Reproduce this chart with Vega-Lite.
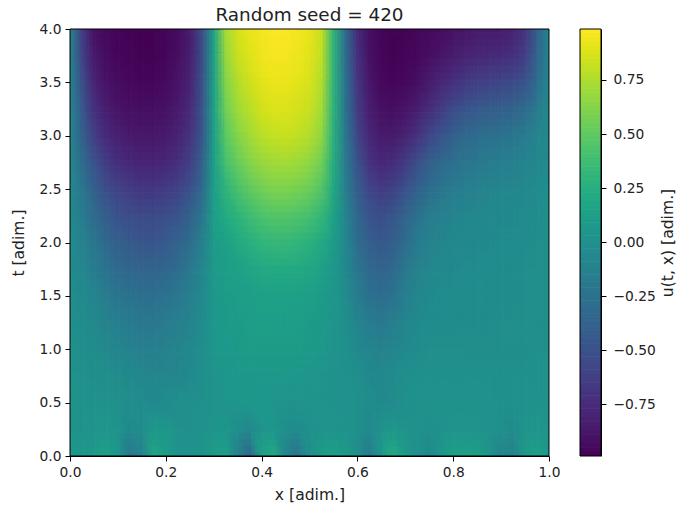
{"$schema":"https://vega.github.io/schema/vega-lite/v6.json","background":"white","padding":{"left":11,"top":5,"right":0,"bottom":0},"spacing":19,"config":{"font":"DejaVu Sans","view":{"stroke":null},"axis":{"grid":false,"domainColor":"black","tickColor":"black","tickSize":5,"labelColor":"#222222","titleColor":"#222222","labelFontSize":13.8,"titleFontSize":15.6,"titleFontWeight":"normal","labelFont":"DejaVu Sans","titleFont":"DejaVu Sans","labelPadding":4,"zindex":1}},"datasets":{"frame":[{"x":0,"x2":1,"t":0,"t2":4}],"barframe":[{"u":-0.99,"u2":0.986}],"grid":[
{"x":0,"t":4,"u":-0.1},{"x":0.025,"t":4,"u":-0.65},{"x":0.05,"t":4,"u":-0.9},{"x":0.075,"t":4,"u":-0.95},{"x":0.1,"t":4,"u":-0.97},{"x":0.125,"t":4,"u":-0.98},{"x":0.15,"t":4,"u":-0.99},{"x":0.175,"t":4,"u":-0.98},{"x":0.2,"t":4,"u":-0.97},{"x":0.225,"t":4,"u":-0.93},{"x":0.25,"t":4,"u":-0.85},{"x":0.275,"t":4,"u":-0.55},{"x":0.3,"t":4,"u":0.15},{"x":0.325,"t":4,"u":0.72},{"x":0.35,"t":4,"u":0.86},{"x":0.375,"t":4,"u":0.92},{"x":0.4,"t":4,"u":0.96},{"x":0.425,"t":4,"u":0.98},{"x":0.45,"t":4,"u":0.98},{"x":0.475,"t":4,"u":0.96},{"x":0.5,"t":4,"u":0.92},{"x":0.525,"t":4,"u":0.82},{"x":0.55,"t":4,"u":0.3},{"x":0.575,"t":4,"u":-0.3},{"x":0.6,"t":4,"u":-0.75},{"x":0.625,"t":4,"u":-0.92},{"x":0.65,"t":4,"u":-0.97},{"x":0.675,"t":4,"u":-0.98},{"x":0.7,"t":4,"u":-0.98},{"x":0.725,"t":4,"u":-0.96},{"x":0.75,"t":4,"u":-0.95},{"x":0.775,"t":4,"u":-0.93},{"x":0.8,"t":4,"u":-0.9},{"x":0.825,"t":4,"u":-0.88},{"x":0.85,"t":4,"u":-0.86},{"x":0.875,"t":4,"u":-0.85},{"x":0.9,"t":4,"u":-0.84},{"x":0.925,"t":4,"u":-0.8},{"x":0.95,"t":4,"u":-0.7},{"x":0.975,"t":4,"u":-0.4},{"x":1,"t":4,"u":-0.05},
{"x":0,"t":3.75,"u":-0.1},{"x":0.025,"t":3.75,"u":-0.6},{"x":0.05,"t":3.75,"u":-0.86},{"x":0.075,"t":3.75,"u":-0.93},{"x":0.1,"t":3.75,"u":-0.96},{"x":0.125,"t":3.75,"u":-0.97},{"x":0.15,"t":3.75,"u":-0.98},{"x":0.175,"t":3.75,"u":-0.98},{"x":0.2,"t":3.75,"u":-0.96},{"x":0.225,"t":3.75,"u":-0.92},{"x":0.25,"t":3.75,"u":-0.83},{"x":0.275,"t":3.75,"u":-0.55},{"x":0.3,"t":3.75,"u":0.14},{"x":0.325,"t":3.75,"u":0.68},{"x":0.35,"t":3.75,"u":0.82},{"x":0.375,"t":3.75,"u":0.89},{"x":0.4,"t":3.75,"u":0.94},{"x":0.425,"t":3.75,"u":0.96},{"x":0.45,"t":3.75,"u":0.96},{"x":0.475,"t":3.75,"u":0.94},{"x":0.5,"t":3.75,"u":0.9},{"x":0.525,"t":3.75,"u":0.8},{"x":0.55,"t":3.75,"u":0.3},{"x":0.575,"t":3.75,"u":-0.28},{"x":0.6,"t":3.75,"u":-0.72},{"x":0.625,"t":3.75,"u":-0.9},{"x":0.65,"t":3.75,"u":-0.96},{"x":0.675,"t":3.75,"u":-0.98},{"x":0.7,"t":3.75,"u":-0.97},{"x":0.725,"t":3.75,"u":-0.95},{"x":0.75,"t":3.75,"u":-0.92},{"x":0.775,"t":3.75,"u":-0.88},{"x":0.8,"t":3.75,"u":-0.84},{"x":0.825,"t":3.75,"u":-0.8},{"x":0.85,"t":3.75,"u":-0.78},{"x":0.875,"t":3.75,"u":-0.76},{"x":0.9,"t":3.75,"u":-0.75},{"x":0.925,"t":3.75,"u":-0.72},{"x":0.95,"t":3.75,"u":-0.63},{"x":0.975,"t":3.75,"u":-0.36},{"x":1,"t":3.75,"u":-0.05},
{"x":0,"t":3.5,"u":-0.1},{"x":0.025,"t":3.5,"u":-0.52},{"x":0.05,"t":3.5,"u":-0.8},{"x":0.075,"t":3.5,"u":-0.89},{"x":0.1,"t":3.5,"u":-0.93},{"x":0.125,"t":3.5,"u":-0.95},{"x":0.15,"t":3.5,"u":-0.96},{"x":0.175,"t":3.5,"u":-0.96},{"x":0.2,"t":3.5,"u":-0.94},{"x":0.225,"t":3.5,"u":-0.89},{"x":0.25,"t":3.5,"u":-0.8},{"x":0.275,"t":3.5,"u":-0.52},{"x":0.3,"t":3.5,"u":0.14},{"x":0.325,"t":3.5,"u":0.62},{"x":0.35,"t":3.5,"u":0.76},{"x":0.375,"t":3.5,"u":0.84},{"x":0.4,"t":3.5,"u":0.9},{"x":0.425,"t":3.5,"u":0.93},{"x":0.45,"t":3.5,"u":0.93},{"x":0.475,"t":3.5,"u":0.91},{"x":0.5,"t":3.5,"u":0.87},{"x":0.525,"t":3.5,"u":0.76},{"x":0.55,"t":3.5,"u":0.3},{"x":0.575,"t":3.5,"u":-0.25},{"x":0.6,"t":3.5,"u":-0.68},{"x":0.625,"t":3.5,"u":-0.87},{"x":0.65,"t":3.5,"u":-0.95},{"x":0.675,"t":3.5,"u":-0.96},{"x":0.7,"t":3.5,"u":-0.95},{"x":0.725,"t":3.5,"u":-0.91},{"x":0.75,"t":3.5,"u":-0.85},{"x":0.775,"t":3.5,"u":-0.78},{"x":0.8,"t":3.5,"u":-0.72},{"x":0.825,"t":3.5,"u":-0.66},{"x":0.85,"t":3.5,"u":-0.62},{"x":0.875,"t":3.5,"u":-0.6},{"x":0.9,"t":3.5,"u":-0.58},{"x":0.925,"t":3.5,"u":-0.55},{"x":0.95,"t":3.5,"u":-0.48},{"x":0.975,"t":3.5,"u":-0.28},{"x":1,"t":3.5,"u":-0.05},
{"x":0,"t":3.25,"u":-0.09},{"x":0.025,"t":3.25,"u":-0.45},{"x":0.05,"t":3.25,"u":-0.72},{"x":0.075,"t":3.25,"u":-0.83},{"x":0.1,"t":3.25,"u":-0.89},{"x":0.125,"t":3.25,"u":-0.91},{"x":0.15,"t":3.25,"u":-0.92},{"x":0.175,"t":3.25,"u":-0.92},{"x":0.2,"t":3.25,"u":-0.9},{"x":0.225,"t":3.25,"u":-0.85},{"x":0.25,"t":3.25,"u":-0.76},{"x":0.275,"t":3.25,"u":-0.5},{"x":0.3,"t":3.25,"u":0.13},{"x":0.325,"t":3.25,"u":0.56},{"x":0.35,"t":3.25,"u":0.7},{"x":0.375,"t":3.25,"u":0.78},{"x":0.4,"t":3.25,"u":0.85},{"x":0.425,"t":3.25,"u":0.88},{"x":0.45,"t":3.25,"u":0.88},{"x":0.475,"t":3.25,"u":0.86},{"x":0.5,"t":3.25,"u":0.82},{"x":0.525,"t":3.25,"u":0.72},{"x":0.55,"t":3.25,"u":0.28},{"x":0.575,"t":3.25,"u":-0.23},{"x":0.6,"t":3.25,"u":-0.64},{"x":0.625,"t":3.25,"u":-0.83},{"x":0.65,"t":3.25,"u":-0.91},{"x":0.675,"t":3.25,"u":-0.92},{"x":0.7,"t":3.25,"u":-0.89},{"x":0.725,"t":3.25,"u":-0.83},{"x":0.75,"t":3.25,"u":-0.74},{"x":0.775,"t":3.25,"u":-0.64},{"x":0.8,"t":3.25,"u":-0.55},{"x":0.825,"t":3.25,"u":-0.48},{"x":0.85,"t":3.25,"u":-0.44},{"x":0.875,"t":3.25,"u":-0.42},{"x":0.9,"t":3.25,"u":-0.4},{"x":0.925,"t":3.25,"u":-0.37},{"x":0.95,"t":3.25,"u":-0.3},{"x":0.975,"t":3.25,"u":-0.18},{"x":1,"t":3.25,"u":-0.04},
{"x":0,"t":3,"u":-0.08},{"x":0.025,"t":3,"u":-0.38},{"x":0.05,"t":3,"u":-0.62},{"x":0.075,"t":3,"u":-0.75},{"x":0.1,"t":3,"u":-0.82},{"x":0.125,"t":3,"u":-0.86},{"x":0.15,"t":3,"u":-0.87},{"x":0.175,"t":3,"u":-0.87},{"x":0.2,"t":3,"u":-0.85},{"x":0.225,"t":3,"u":-0.8},{"x":0.25,"t":3,"u":-0.7},{"x":0.275,"t":3,"u":-0.46},{"x":0.3,"t":3,"u":0.12},{"x":0.325,"t":3,"u":0.48},{"x":0.35,"t":3,"u":0.62},{"x":0.375,"t":3,"u":0.71},{"x":0.4,"t":3,"u":0.78},{"x":0.425,"t":3,"u":0.81},{"x":0.45,"t":3,"u":0.82},{"x":0.475,"t":3,"u":0.8},{"x":0.5,"t":3,"u":0.76},{"x":0.525,"t":3,"u":0.66},{"x":0.55,"t":3,"u":0.26},{"x":0.575,"t":3,"u":-0.2},{"x":0.6,"t":3,"u":-0.58},{"x":0.625,"t":3,"u":-0.78},{"x":0.65,"t":3,"u":-0.85},{"x":0.675,"t":3,"u":-0.85},{"x":0.7,"t":3,"u":-0.8},{"x":0.725,"t":3,"u":-0.7},{"x":0.75,"t":3,"u":-0.58},{"x":0.775,"t":3,"u":-0.47},{"x":0.8,"t":3,"u":-0.38},{"x":0.825,"t":3,"u":-0.32},{"x":0.85,"t":3,"u":-0.28},{"x":0.875,"t":3,"u":-0.26},{"x":0.9,"t":3,"u":-0.25},{"x":0.925,"t":3,"u":-0.22},{"x":0.95,"t":3,"u":-0.17},{"x":0.975,"t":3,"u":-0.1},{"x":1,"t":3,"u":-0.03},
{"x":0,"t":2.75,"u":-0.07},{"x":0.025,"t":2.75,"u":-0.3},{"x":0.05,"t":2.75,"u":-0.5},{"x":0.075,"t":2.75,"u":-0.65},{"x":0.1,"t":2.75,"u":-0.73},{"x":0.125,"t":2.75,"u":-0.77},{"x":0.15,"t":2.75,"u":-0.79},{"x":0.175,"t":2.75,"u":-0.79},{"x":0.2,"t":2.75,"u":-0.77},{"x":0.225,"t":2.75,"u":-0.72},{"x":0.25,"t":2.75,"u":-0.62},{"x":0.275,"t":2.75,"u":-0.4},{"x":0.3,"t":2.75,"u":0.12},{"x":0.325,"t":2.75,"u":0.4},{"x":0.35,"t":2.75,"u":0.53},{"x":0.375,"t":2.75,"u":0.62},{"x":0.4,"t":2.75,"u":0.68},{"x":0.425,"t":2.75,"u":0.71},{"x":0.45,"t":2.75,"u":0.72},{"x":0.475,"t":2.75,"u":0.7},{"x":0.5,"t":2.75,"u":0.66},{"x":0.525,"t":2.75,"u":0.56},{"x":0.55,"t":2.75,"u":0.23},{"x":0.575,"t":2.75,"u":-0.17},{"x":0.6,"t":2.75,"u":-0.5},{"x":0.625,"t":2.75,"u":-0.7},{"x":0.65,"t":2.75,"u":-0.77},{"x":0.675,"t":2.75,"u":-0.74},{"x":0.7,"t":2.75,"u":-0.65},{"x":0.725,"t":2.75,"u":-0.52},{"x":0.75,"t":2.75,"u":-0.4},{"x":0.775,"t":2.75,"u":-0.32},{"x":0.8,"t":2.75,"u":-0.26},{"x":0.825,"t":2.75,"u":-0.22},{"x":0.85,"t":2.75,"u":-0.19},{"x":0.875,"t":2.75,"u":-0.17},{"x":0.9,"t":2.75,"u":-0.15},{"x":0.925,"t":2.75,"u":-0.13},{"x":0.95,"t":2.75,"u":-0.1},{"x":0.975,"t":2.75,"u":-0.07},{"x":1,"t":2.75,"u":-0.03},
{"x":0,"t":2.5,"u":-0.06},{"x":0.025,"t":2.5,"u":-0.22},{"x":0.05,"t":2.5,"u":-0.4},{"x":0.075,"t":2.5,"u":-0.53},{"x":0.1,"t":2.5,"u":-0.61},{"x":0.125,"t":2.5,"u":-0.65},{"x":0.15,"t":2.5,"u":-0.67},{"x":0.175,"t":2.5,"u":-0.67},{"x":0.2,"t":2.5,"u":-0.65},{"x":0.225,"t":2.5,"u":-0.6},{"x":0.25,"t":2.5,"u":-0.5},{"x":0.275,"t":2.5,"u":-0.32},{"x":0.3,"t":2.5,"u":0.12},{"x":0.325,"t":2.5,"u":0.3},{"x":0.35,"t":2.5,"u":0.42},{"x":0.375,"t":2.5,"u":0.5},{"x":0.4,"t":2.5,"u":0.56},{"x":0.425,"t":2.5,"u":0.6},{"x":0.45,"t":2.5,"u":0.6},{"x":0.475,"t":2.5,"u":0.58},{"x":0.5,"t":2.5,"u":0.54},{"x":0.525,"t":2.5,"u":0.45},{"x":0.55,"t":2.5,"u":0.19},{"x":0.575,"t":2.5,"u":-0.14},{"x":0.6,"t":2.5,"u":-0.42},{"x":0.625,"t":2.5,"u":-0.58},{"x":0.65,"t":2.5,"u":-0.65},{"x":0.675,"t":2.5,"u":-0.6},{"x":0.7,"t":2.5,"u":-0.5},{"x":0.725,"t":2.5,"u":-0.38},{"x":0.75,"t":2.5,"u":-0.28},{"x":0.775,"t":2.5,"u":-0.22},{"x":0.8,"t":2.5,"u":-0.17},{"x":0.825,"t":2.5,"u":-0.14},{"x":0.85,"t":2.5,"u":-0.12},{"x":0.875,"t":2.5,"u":-0.1},{"x":0.9,"t":2.5,"u":-0.09},{"x":0.925,"t":2.5,"u":-0.08},{"x":0.95,"t":2.5,"u":-0.06},{"x":0.975,"t":2.5,"u":-0.04},{"x":1,"t":2.5,"u":-0.02},
{"x":0,"t":2.25,"u":-0.05},{"x":0.025,"t":2.25,"u":-0.16},{"x":0.05,"t":2.25,"u":-0.3},{"x":0.075,"t":2.25,"u":-0.42},{"x":0.1,"t":2.25,"u":-0.49},{"x":0.125,"t":2.25,"u":-0.53},{"x":0.15,"t":2.25,"u":-0.55},{"x":0.175,"t":2.25,"u":-0.55},{"x":0.2,"t":2.25,"u":-0.53},{"x":0.225,"t":2.25,"u":-0.47},{"x":0.25,"t":2.25,"u":-0.38},{"x":0.275,"t":2.25,"u":-0.22},{"x":0.3,"t":2.25,"u":0.12},{"x":0.325,"t":2.25,"u":0.22},{"x":0.35,"t":2.25,"u":0.3},{"x":0.375,"t":2.25,"u":0.37},{"x":0.4,"t":2.25,"u":0.43},{"x":0.425,"t":2.25,"u":0.46},{"x":0.45,"t":2.25,"u":0.46},{"x":0.475,"t":2.25,"u":0.44},{"x":0.5,"t":2.25,"u":0.4},{"x":0.525,"t":2.25,"u":0.32},{"x":0.55,"t":2.25,"u":0.14},{"x":0.575,"t":2.25,"u":-0.1},{"x":0.6,"t":2.25,"u":-0.34},{"x":0.625,"t":2.25,"u":-0.47},{"x":0.65,"t":2.25,"u":-0.52},{"x":0.675,"t":2.25,"u":-0.46},{"x":0.7,"t":2.25,"u":-0.36},{"x":0.725,"t":2.25,"u":-0.25},{"x":0.75,"t":2.25,"u":-0.18},{"x":0.775,"t":2.25,"u":-0.13},{"x":0.8,"t":2.25,"u":-0.1},{"x":0.825,"t":2.25,"u":-0.08},{"x":0.85,"t":2.25,"u":-0.07},{"x":0.875,"t":2.25,"u":-0.06},{"x":0.9,"t":2.25,"u":-0.05},{"x":0.925,"t":2.25,"u":-0.05},{"x":0.95,"t":2.25,"u":-0.04},{"x":0.975,"t":2.25,"u":-0.03},{"x":1,"t":2.25,"u":-0.01},
{"x":0,"t":2,"u":-0.04},{"x":0.025,"t":2,"u":-0.12},{"x":0.05,"t":2,"u":-0.22},{"x":0.075,"t":2,"u":-0.32},{"x":0.1,"t":2,"u":-0.4},{"x":0.125,"t":2,"u":-0.44},{"x":0.15,"t":2,"u":-0.46},{"x":0.175,"t":2,"u":-0.46},{"x":0.2,"t":2,"u":-0.43},{"x":0.225,"t":2,"u":-0.37},{"x":0.25,"t":2,"u":-0.28},{"x":0.275,"t":2,"u":-0.14},{"x":0.3,"t":2,"u":0.09},{"x":0.325,"t":2,"u":0.14},{"x":0.35,"t":2,"u":0.2},{"x":0.375,"t":2,"u":0.26},{"x":0.4,"t":2,"u":0.31},{"x":0.425,"t":2,"u":0.33},{"x":0.45,"t":2,"u":0.33},{"x":0.475,"t":2,"u":0.31},{"x":0.5,"t":2,"u":0.27},{"x":0.525,"t":2,"u":0.2},{"x":0.55,"t":2,"u":0.1},{"x":0.575,"t":2,"u":-0.07},{"x":0.6,"t":2,"u":-0.28},{"x":0.625,"t":2,"u":-0.4},{"x":0.65,"t":2,"u":-0.45},{"x":0.675,"t":2,"u":-0.4},{"x":0.7,"t":2,"u":-0.28},{"x":0.725,"t":2,"u":-0.18},{"x":0.75,"t":2,"u":-0.12},{"x":0.775,"t":2,"u":-0.09},{"x":0.8,"t":2,"u":-0.07},{"x":0.825,"t":2,"u":-0.06},{"x":0.85,"t":2,"u":-0.05},{"x":0.875,"t":2,"u":-0.05},{"x":0.9,"t":2,"u":-0.04},{"x":0.925,"t":2,"u":-0.04},{"x":0.95,"t":2,"u":-0.03},{"x":0.975,"t":2,"u":-0.02},{"x":1,"t":2,"u":-0.01},
{"x":0,"t":1.75,"u":-0.03},{"x":0.025,"t":1.75,"u":-0.08},{"x":0.05,"t":1.75,"u":-0.16},{"x":0.075,"t":1.75,"u":-0.24},{"x":0.1,"t":1.75,"u":-0.31},{"x":0.125,"t":1.75,"u":-0.35},{"x":0.15,"t":1.75,"u":-0.36},{"x":0.175,"t":1.75,"u":-0.36},{"x":0.2,"t":1.75,"u":-0.33},{"x":0.225,"t":1.75,"u":-0.28},{"x":0.25,"t":1.75,"u":-0.2},{"x":0.275,"t":1.75,"u":-0.09},{"x":0.3,"t":1.75,"u":0.08},{"x":0.325,"t":1.75,"u":0.11},{"x":0.35,"t":1.75,"u":0.14},{"x":0.375,"t":1.75,"u":0.17},{"x":0.4,"t":1.75,"u":0.2},{"x":0.425,"t":1.75,"u":0.21},{"x":0.45,"t":1.75,"u":0.21},{"x":0.475,"t":1.75,"u":0.2},{"x":0.5,"t":1.75,"u":0.18},{"x":0.525,"t":1.75,"u":0.14},{"x":0.55,"t":1.75,"u":0.07},{"x":0.575,"t":1.75,"u":-0.05},{"x":0.6,"t":1.75,"u":-0.22},{"x":0.625,"t":1.75,"u":-0.32},{"x":0.65,"t":1.75,"u":-0.36},{"x":0.675,"t":1.75,"u":-0.31},{"x":0.7,"t":1.75,"u":-0.2},{"x":0.725,"t":1.75,"u":-0.12},{"x":0.75,"t":1.75,"u":-0.08},{"x":0.775,"t":1.75,"u":-0.06},{"x":0.8,"t":1.75,"u":-0.05},{"x":0.825,"t":1.75,"u":-0.04},{"x":0.85,"t":1.75,"u":-0.04},{"x":0.875,"t":1.75,"u":-0.03},{"x":0.9,"t":1.75,"u":-0.03},{"x":0.925,"t":1.75,"u":-0.03},{"x":0.95,"t":1.75,"u":-0.02},{"x":0.975,"t":1.75,"u":-0.02},{"x":1,"t":1.75,"u":-0.01},
{"x":0,"t":1.5,"u":-0.02},{"x":0.025,"t":1.5,"u":-0.05},{"x":0.05,"t":1.5,"u":-0.1},{"x":0.075,"t":1.5,"u":-0.17},{"x":0.1,"t":1.5,"u":-0.22},{"x":0.125,"t":1.5,"u":-0.25},{"x":0.15,"t":1.5,"u":-0.27},{"x":0.175,"t":1.5,"u":-0.27},{"x":0.2,"t":1.5,"u":-0.24},{"x":0.225,"t":1.5,"u":-0.2},{"x":0.25,"t":1.5,"u":-0.14},{"x":0.275,"t":1.5,"u":-0.06},{"x":0.3,"t":1.5,"u":0.07},{"x":0.325,"t":1.5,"u":0.09},{"x":0.35,"t":1.5,"u":0.11},{"x":0.375,"t":1.5,"u":0.12},{"x":0.4,"t":1.5,"u":0.14},{"x":0.425,"t":1.5,"u":0.14},{"x":0.45,"t":1.5,"u":0.14},{"x":0.475,"t":1.5,"u":0.13},{"x":0.5,"t":1.5,"u":0.12},{"x":0.525,"t":1.5,"u":0.1},{"x":0.55,"t":1.5,"u":0.05},{"x":0.575,"t":1.5,"u":-0.03},{"x":0.6,"t":1.5,"u":-0.16},{"x":0.625,"t":1.5,"u":-0.25},{"x":0.65,"t":1.5,"u":-0.28},{"x":0.675,"t":1.5,"u":-0.23},{"x":0.7,"t":1.5,"u":-0.14},{"x":0.725,"t":1.5,"u":-0.08},{"x":0.75,"t":1.5,"u":-0.05},{"x":0.775,"t":1.5,"u":-0.04},{"x":0.8,"t":1.5,"u":-0.03},{"x":0.825,"t":1.5,"u":-0.03},{"x":0.85,"t":1.5,"u":-0.03},{"x":0.875,"t":1.5,"u":-0.03},{"x":0.9,"t":1.5,"u":-0.03},{"x":0.925,"t":1.5,"u":-0.03},{"x":0.95,"t":1.5,"u":-0.02},{"x":0.975,"t":1.5,"u":-0.02},{"x":1,"t":1.5,"u":-0.01},
{"x":0,"t":1.25,"u":-0.01},{"x":0.025,"t":1.25,"u":-0.03},{"x":0.05,"t":1.25,"u":-0.06},{"x":0.075,"t":1.25,"u":-0.11},{"x":0.1,"t":1.25,"u":-0.15},{"x":0.125,"t":1.25,"u":-0.18},{"x":0.15,"t":1.25,"u":-0.19},{"x":0.175,"t":1.25,"u":-0.19},{"x":0.2,"t":1.25,"u":-0.17},{"x":0.225,"t":1.25,"u":-0.14},{"x":0.25,"t":1.25,"u":-0.1},{"x":0.275,"t":1.25,"u":-0.04},{"x":0.3,"t":1.25,"u":0.06},{"x":0.325,"t":1.25,"u":0.08},{"x":0.35,"t":1.25,"u":0.1},{"x":0.375,"t":1.25,"u":0.11},{"x":0.4,"t":1.25,"u":0.12},{"x":0.425,"t":1.25,"u":0.12},{"x":0.45,"t":1.25,"u":0.12},{"x":0.475,"t":1.25,"u":0.11},{"x":0.5,"t":1.25,"u":0.1},{"x":0.525,"t":1.25,"u":0.08},{"x":0.55,"t":1.25,"u":0.04},{"x":0.575,"t":1.25,"u":-0.01},{"x":0.6,"t":1.25,"u":-0.1},{"x":0.625,"t":1.25,"u":-0.17},{"x":0.65,"t":1.25,"u":-0.19},{"x":0.675,"t":1.25,"u":-0.15},{"x":0.7,"t":1.25,"u":-0.09},{"x":0.725,"t":1.25,"u":-0.05},{"x":0.75,"t":1.25,"u":-0.03},{"x":0.775,"t":1.25,"u":-0.03},{"x":0.8,"t":1.25,"u":-0.03},{"x":0.825,"t":1.25,"u":-0.03},{"x":0.85,"t":1.25,"u":-0.03},{"x":0.875,"t":1.25,"u":-0.03},{"x":0.9,"t":1.25,"u":-0.02},{"x":0.925,"t":1.25,"u":-0.02},{"x":0.95,"t":1.25,"u":-0.02},{"x":0.975,"t":1.25,"u":-0.01},{"x":1,"t":1.25,"u":-0.01},
{"x":0,"t":1,"u":0},{"x":0.025,"t":1,"u":-0.01},{"x":0.05,"t":1,"u":-0.03},{"x":0.075,"t":1,"u":-0.06},{"x":0.1,"t":1,"u":-0.09},{"x":0.125,"t":1,"u":-0.12},{"x":0.15,"t":1,"u":-0.13},{"x":0.175,"t":1,"u":-0.13},{"x":0.2,"t":1,"u":-0.12},{"x":0.225,"t":1,"u":-0.1},{"x":0.25,"t":1,"u":-0.07},{"x":0.275,"t":1,"u":-0.02},{"x":0.3,"t":1,"u":0.05},{"x":0.325,"t":1,"u":0.07},{"x":0.35,"t":1,"u":0.08},{"x":0.375,"t":1,"u":0.09},{"x":0.4,"t":1,"u":0.1},{"x":0.425,"t":1,"u":0.1},{"x":0.45,"t":1,"u":0.1},{"x":0.475,"t":1,"u":0.09},{"x":0.5,"t":1,"u":0.08},{"x":0.525,"t":1,"u":0.07},{"x":0.55,"t":1,"u":0.03},{"x":0.575,"t":1,"u":0},{"x":0.6,"t":1,"u":-0.05},{"x":0.625,"t":1,"u":-0.1},{"x":0.65,"t":1,"u":-0.12},{"x":0.675,"t":1,"u":-0.09},{"x":0.7,"t":1,"u":-0.05},{"x":0.725,"t":1,"u":-0.03},{"x":0.75,"t":1,"u":-0.02},{"x":0.775,"t":1,"u":-0.02},{"x":0.8,"t":1,"u":-0.02},{"x":0.825,"t":1,"u":-0.01},{"x":0.85,"t":1,"u":-0.01},{"x":0.875,"t":1,"u":-0.01},{"x":0.9,"t":1,"u":-0.01},{"x":0.925,"t":1,"u":-0.01},{"x":0.95,"t":1,"u":-0.01},{"x":0.975,"t":1,"u":0},{"x":1,"t":1,"u":0},
{"x":0,"t":0.75,"u":0.01},{"x":0.025,"t":0.75,"u":0},{"x":0.05,"t":0.75,"u":-0.01},{"x":0.075,"t":0.75,"u":-0.02},{"x":0.1,"t":0.75,"u":-0.03},{"x":0.125,"t":0.75,"u":-0.05},{"x":0.15,"t":0.75,"u":-0.07},{"x":0.175,"t":0.75,"u":-0.08},{"x":0.2,"t":0.75,"u":-0.09},{"x":0.225,"t":0.75,"u":-0.08},{"x":0.25,"t":0.75,"u":-0.05},{"x":0.275,"t":0.75,"u":-0.01},{"x":0.3,"t":0.75,"u":0.04},{"x":0.325,"t":0.75,"u":0.05},{"x":0.35,"t":0.75,"u":0.06},{"x":0.375,"t":0.75,"u":0.06},{"x":0.4,"t":0.75,"u":0.07},{"x":0.425,"t":0.75,"u":0.07},{"x":0.45,"t":0.75,"u":0.07},{"x":0.475,"t":0.75,"u":0.06},{"x":0.5,"t":0.75,"u":0.05},{"x":0.525,"t":0.75,"u":0.04},{"x":0.55,"t":0.75,"u":0.02},{"x":0.575,"t":0.75,"u":0.01},{"x":0.6,"t":0.75,"u":-0.02},{"x":0.625,"t":0.75,"u":-0.05},{"x":0.65,"t":0.75,"u":-0.06},{"x":0.675,"t":0.75,"u":-0.03},{"x":0.7,"t":0.75,"u":-0.01},{"x":0.725,"t":0.75,"u":0},{"x":0.75,"t":0.75,"u":0},{"x":0.775,"t":0.75,"u":0},{"x":0.8,"t":0.75,"u":0},{"x":0.825,"t":0.75,"u":0},{"x":0.85,"t":0.75,"u":0},{"x":0.875,"t":0.75,"u":0},{"x":0.9,"t":0.75,"u":0},{"x":0.925,"t":0.75,"u":0},{"x":0.95,"t":0.75,"u":0},{"x":0.975,"t":0.75,"u":0},{"x":1,"t":0.75,"u":0.01},
{"x":0,"t":0.5,"u":0.02},{"x":0.025,"t":0.5,"u":0.02},{"x":0.05,"t":0.5,"u":0.02},{"x":0.075,"t":0.5,"u":0.01},{"x":0.1,"t":0.5,"u":0},{"x":0.125,"t":0.5,"u":-0.02},{"x":0.15,"t":0.5,"u":-0.04},{"x":0.175,"t":0.5,"u":-0.05},{"x":0.2,"t":0.5,"u":-0.04},{"x":0.225,"t":0.5,"u":-0.02},{"x":0.25,"t":0.5,"u":0},{"x":0.275,"t":0.5,"u":0},{"x":0.3,"t":0.5,"u":0.03},{"x":0.325,"t":0.5,"u":0.04},{"x":0.35,"t":0.5,"u":0.05},{"x":0.375,"t":0.5,"u":0.05},{"x":0.4,"t":0.5,"u":0.05},{"x":0.425,"t":0.5,"u":0.04},{"x":0.45,"t":0.5,"u":0.04},{"x":0.475,"t":0.5,"u":0.03},{"x":0.5,"t":0.5,"u":0.03},{"x":0.525,"t":0.5,"u":0.03},{"x":0.55,"t":0.5,"u":0.02},{"x":0.575,"t":0.5,"u":0.01},{"x":0.6,"t":0.5,"u":0},{"x":0.625,"t":0.5,"u":-0.03},{"x":0.65,"t":0.5,"u":-0.05},{"x":0.675,"t":0.5,"u":-0.03},{"x":0.7,"t":0.5,"u":0},{"x":0.725,"t":0.5,"u":0.02},{"x":0.75,"t":0.5,"u":0.02},{"x":0.775,"t":0.5,"u":0.01},{"x":0.8,"t":0.5,"u":0.01},{"x":0.825,"t":0.5,"u":0.01},{"x":0.85,"t":0.5,"u":0.01},{"x":0.875,"t":0.5,"u":0.01},{"x":0.9,"t":0.5,"u":0},{"x":0.925,"t":0.5,"u":0},{"x":0.95,"t":0.5,"u":0.01},{"x":0.975,"t":0.5,"u":0.01},{"x":1,"t":0.5,"u":0.02},
{"x":0,"t":0.25,"u":0.02},{"x":0.025,"t":0.25,"u":0.02},{"x":0.05,"t":0.25,"u":0.04},{"x":0.075,"t":0.25,"u":0.06},{"x":0.1,"t":0.25,"u":0.03},{"x":0.125,"t":0.25,"u":-0.05},{"x":0.15,"t":0.25,"u":-0.03},{"x":0.175,"t":0.25,"u":0.07},{"x":0.2,"t":0.25,"u":0.05},{"x":0.225,"t":0.25,"u":0.01},{"x":0.25,"t":0.25,"u":0},{"x":0.275,"t":0.25,"u":0.01},{"x":0.3,"t":0.25,"u":0.04},{"x":0.325,"t":0.25,"u":0.05},{"x":0.35,"t":0.25,"u":-0.02},{"x":0.375,"t":0.25,"u":-0.06},{"x":0.4,"t":0.25,"u":0.04},{"x":0.425,"t":0.25,"u":0.06},{"x":0.45,"t":0.25,"u":-0.01},{"x":0.475,"t":0.25,"u":-0.04},{"x":0.5,"t":0.25,"u":0},{"x":0.525,"t":0.25,"u":0.03},{"x":0.55,"t":0.25,"u":0.04},{"x":0.575,"t":0.25,"u":0.03},{"x":0.6,"t":0.25,"u":0},{"x":0.625,"t":0.25,"u":-0.05},{"x":0.65,"t":0.25,"u":0.01},{"x":0.675,"t":0.25,"u":0.07},{"x":0.7,"t":0.25,"u":0.03},{"x":0.725,"t":0.25,"u":0.01},{"x":0.75,"t":0.25,"u":-0.01},{"x":0.775,"t":0.25,"u":0.01},{"x":0.8,"t":0.25,"u":0.04},{"x":0.825,"t":0.25,"u":0.04},{"x":0.85,"t":0.25,"u":0.03},{"x":0.875,"t":0.25,"u":0.01},{"x":0.9,"t":0.25,"u":-0.02},{"x":0.925,"t":0.25,"u":-0.03},{"x":0.95,"t":0.25,"u":0.03},{"x":0.975,"t":0.25,"u":0.05},{"x":1,"t":0.25,"u":0.03},
{"x":0,"t":0,"u":0.05},{"x":0.025,"t":0,"u":0.05},{"x":0.05,"t":0,"u":0.08},{"x":0.075,"t":0,"u":0.14},{"x":0.1,"t":0,"u":0.06},{"x":0.125,"t":0,"u":-0.2},{"x":0.15,"t":0,"u":-0.12},{"x":0.175,"t":0,"u":0.18},{"x":0.2,"t":0,"u":0.12},{"x":0.225,"t":0,"u":0.02},{"x":0.25,"t":0,"u":0},{"x":0.275,"t":0,"u":0.03},{"x":0.3,"t":0,"u":0.1},{"x":0.325,"t":0,"u":0.14},{"x":0.35,"t":0,"u":-0.12},{"x":0.375,"t":0,"u":-0.32},{"x":0.4,"t":0,"u":0.14},{"x":0.425,"t":0,"u":0.2},{"x":0.45,"t":0,"u":-0.08},{"x":0.475,"t":0,"u":-0.22},{"x":0.5,"t":0,"u":-0.02},{"x":0.525,"t":0,"u":0.08},{"x":0.55,"t":0,"u":0.14},{"x":0.575,"t":0,"u":0.08},{"x":0.6,"t":0,"u":-0.02},{"x":0.625,"t":0,"u":-0.18},{"x":0.65,"t":0,"u":0.05},{"x":0.675,"t":0,"u":0.22},{"x":0.7,"t":0,"u":0.1},{"x":0.725,"t":0,"u":0},{"x":0.75,"t":0,"u":-0.05},{"x":0.775,"t":0,"u":0.03},{"x":0.8,"t":0,"u":0.13},{"x":0.825,"t":0,"u":0.14},{"x":0.85,"t":0,"u":0.13},{"x":0.875,"t":0,"u":0.03},{"x":0.9,"t":0,"u":-0.1},{"x":0.925,"t":0,"u":-0.12},{"x":0.95,"t":0,"u":0.08},{"x":0.975,"t":0,"u":0.14},{"x":1,"t":0,"u":0.06}
],"bar":[{"u":-0.98},{"u":-0.96},{"u":-0.94},{"u":-0.92},{"u":-0.9},{"u":-0.88},{"u":-0.86},{"u":-0.84},{"u":-0.82},{"u":-0.8},{"u":-0.78},{"u":-0.76},{"u":-0.74},{"u":-0.72},{"u":-0.7},{"u":-0.68},{"u":-0.66},{"u":-0.64},{"u":-0.62},{"u":-0.6},{"u":-0.58},{"u":-0.56},{"u":-0.54},{"u":-0.52},{"u":-0.5},{"u":-0.48},{"u":-0.46},{"u":-0.44},{"u":-0.42},{"u":-0.4},{"u":-0.38},{"u":-0.36},{"u":-0.34},{"u":-0.32},{"u":-0.3},{"u":-0.28},{"u":-0.26},{"u":-0.24},{"u":-0.22},{"u":-0.2},{"u":-0.18},{"u":-0.16},{"u":-0.14},{"u":-0.12},{"u":-0.1},{"u":-0.08},{"u":-0.06},{"u":-0.04},{"u":-0.02},{"u":0},{"u":0.02},{"u":0.04},{"u":0.06},{"u":0.08},{"u":0.1},{"u":0.12},{"u":0.14},{"u":0.16},{"u":0.18},{"u":0.2},{"u":0.22},{"u":0.24},{"u":0.26},{"u":0.28},{"u":0.3},{"u":0.32},{"u":0.34},{"u":0.36},{"u":0.38},{"u":0.4},{"u":0.42},{"u":0.44},{"u":0.46},{"u":0.48},{"u":0.5},{"u":0.52},{"u":0.54},{"u":0.56},{"u":0.58},{"u":0.6},{"u":0.62},{"u":0.64},{"u":0.66},{"u":0.68},{"u":0.7},{"u":0.72},{"u":0.74},{"u":0.76},{"u":0.78},{"u":0.8},{"u":0.82},{"u":0.84},{"u":0.86},{"u":0.88},{"u":0.9},{"u":0.92},{"u":0.94},{"u":0.96},{"u":0.98}]},"hconcat":[{"width":479,"height":427,"title":{"text":"Random seed = 420","fontSize":18.4,"fontWeight":"normal","font":"DejaVu Sans","color":"#222222","offset":-2,"anchor":"middle"},"encoding":{"x":{"field":"x","type":"quantitative","scale":{"domain":[0,1],"nice":false},"axis":{"values":[0,0.2,0.4,0.6,0.8,1],"format":".1f","title":"x [adim.]","labelFlush":false,"titlePadding":9}},"y":{"field":"t","type":"quantitative","scale":{"domain":[0,4],"nice":false},"axis":{"values":[0,0.5,1,1.5,2,2.5,3,3.5,4],"format":".1f","title":"t [adim.]","titlePadding":13}}},"layer":[{"data":{"name":"grid"},"mark":{"type":"rect","width":12.5,"height":27.2,"clip":true,"xOffset":-4.5,"yOffset":-10},"encoding":{"color":{"field":"u","type":"quantitative","scale":{"scheme":"viridis","domain":[-0.99,0.986]},"legend":null}}},{"data":{"name":"grid"},"mark":{"type":"rect","width":12.5,"height":27.2,"clip":true,"xOffset":-1.5,"yOffset":-3.3,"opacity":0.5},"encoding":{"color":{"field":"u","type":"quantitative","scale":{"scheme":"viridis","domain":[-0.99,0.986]},"legend":null}}},{"data":{"name":"grid"},"mark":{"type":"rect","width":12.5,"height":27.2,"clip":true,"xOffset":1.5,"yOffset":3.3,"opacity":0.33},"encoding":{"color":{"field":"u","type":"quantitative","scale":{"scheme":"viridis","domain":[-0.99,0.986]},"legend":null}}},{"data":{"name":"grid"},"mark":{"type":"rect","width":12.5,"height":27.2,"clip":true,"xOffset":4.5,"yOffset":10,"opacity":0.25},"encoding":{"color":{"field":"u","type":"quantitative","scale":{"scheme":"viridis","domain":[-0.99,0.986]},"legend":null}}},{"data":{"name":"frame"},"mark":{"type":"rect","fillOpacity":0,"stroke":"black","strokeWidth":1},"encoding":{"x2":{"field":"x2"},"y2":{"field":"t2"}}}]},{"width":21,"height":427,"encoding":{"y":{"field":"u","type":"quantitative","scale":{"domain":[-0.99,0.986],"nice":false},"axis":{"orient":"right","values":[-0.75,-0.5,-0.25,0,0.25,0.5,0.75],"format":".2f","title":"u(t, x) [adim.]","titleAngle":270,"titleBaseline":"top","titlePadding":5,"labelPadding":7}}},"layer":[{"data":{"name":"bar"},"mark":{"type":"rect","height":4.9,"clip":true},"encoding":{"color":{"field":"u","type":"quantitative","scale":{"scheme":"viridis","domain":[-0.99,0.986]},"legend":null}}},{"data":{"name":"barframe"},"mark":{"type":"rect","fillOpacity":0,"stroke":"black","strokeWidth":1},"encoding":{"y2":{"field":"u2"}}}]}]}
